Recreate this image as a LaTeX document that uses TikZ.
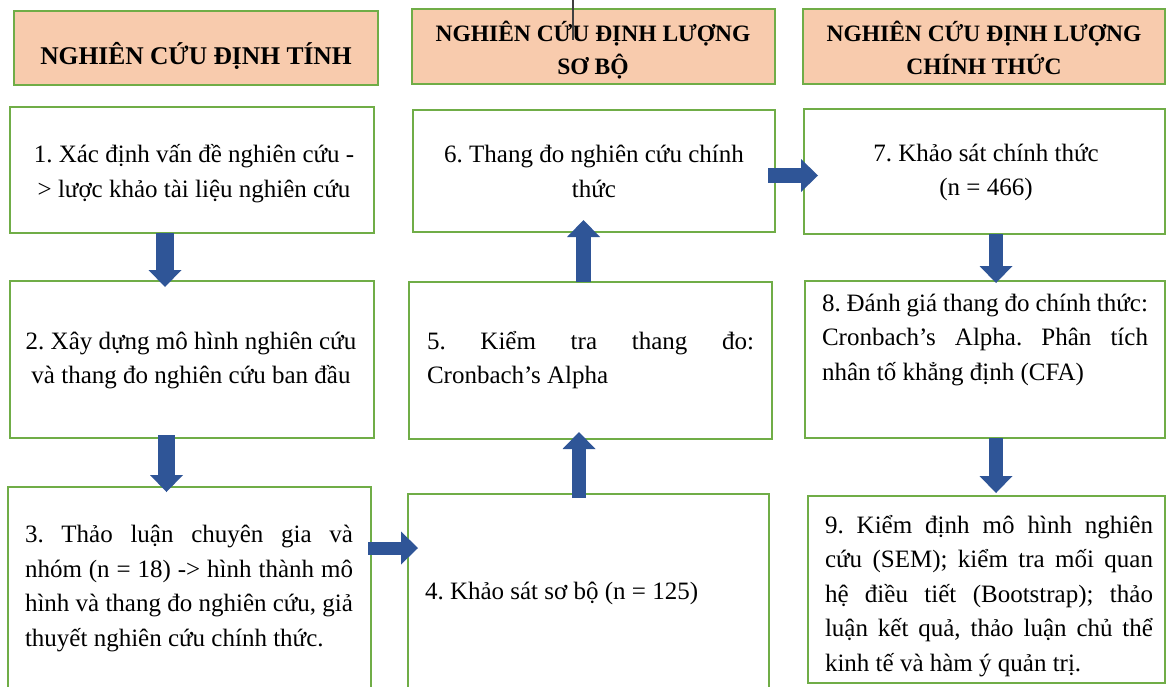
\documentclass[tikz,border=0pt]{standalone}
\usepackage{fontspec}
\setmainfont{Liberation Serif}
\usetikzlibrary{arrows.meta,calc}
\definecolor{boxgreen}{HTML}{70AD47}
\definecolor{hdrfill}{HTML}{F8CBAD}
\definecolor{arrowblue}{HTML}{2F5597}
\definecolor{straygray}{HTML}{404040}
\newcommand{\jline}[2]{\makebox[#1][s]{#2}}
\frenchspacing
\begin{document}
\begin{tikzpicture}[x=1pt,y=-1pt,
  box/.style={draw=boxgreen,line width=2.5pt,outer sep=0pt,inner sep=0pt,rectangle},
  hdr/.style={box,fill=hdrfill},
  txt/.style={inner sep=0pt,outer sep=0pt,font=\fontsize{25}{34.5}\selectfont\frenchspacing},
  htxt/.style={inner sep=0pt,outer sep=0pt,anchor=base,font=\fontsize{23.5}{32}\selectfont\bfseries},
  barrow/.style={arrowblue,line width=#1,-{Triangle[width=33pt,length=17pt,line width=0pt]}}]
\useasboundingbox (0,0) rectangle (1166,686);
% headers
\node[hdr,minimum width=364pt,minimum height=74pt] (h1) at (196,48) {};
\node[hdr,minimum width=363pt,minimum height=75pt] (h2) at (593.5,46.5) {};
\node[hdr,minimum width=362pt,minimum height=75pt] (h3) at (984,46.5) {};
\node[htxt,font=\fontsize{25.5}{32}\selectfont\bfseries] (h1t) at (196,64) {NGHIÊN CỨU ĐỊNH TÍNH};
\node[htxt] (h2a) at (593,41.5) {NGHIÊN CỨU ĐỊNH LƯỢNG};
\node[htxt] (h2b) at (593,74) {SƠ BỘ};
\node[htxt] (h3a) at (984,41.5) {NGHIÊN CỨU ĐỊNH LƯỢNG};
\node[htxt] (h3b) at (984,74) {CHÍNH THỨC};
% boxes
\node[box,minimum width=364pt,minimum height=126pt] (b1) at (192,170) {};
\node[box,minimum width=364pt,minimum height=157pt] (b2) at (192,359.5) {};
\node[box,minimum width=363pt,minimum height=213pt] (b3) at (189.5,593.5) {};
\node[box,minimum width=361pt,minimum height=206pt] (b4) at (588.5,597) {};
\node[box,minimum width=363pt,minimum height=157pt] (b5) at (590.5,360.5) {};
\node[box,minimum width=362pt,minimum height=122pt] (b6) at (594,171) {};
\node[box,minimum width=361pt,minimum height=125pt] (b7) at (984.5,171.5) {};
\node[box,minimum width=360pt,minimum height=157pt] (b8) at (985,359.5) {};
\node[box,minimum width=357pt,minimum height=187pt] (b9) at (986.5,589.5) {};
% texts
\node[txt,align=center] (t1) at (194,173.5) {1. Xác định vấn đề nghiên cứu -\\> lược khảo tài liệu nghiên cứu};
\node[txt,align=center] (t2) at (191,360.5) {2. Xây dựng mô hình nghiên cứu\\và thang đo nghiên cứu ban đầu};
\node[txt,align=left,anchor=west] (t3) at (25,588.5) {\jline{328pt}{3. Thảo luận chuyên gia và}\\\jline{328pt}{nhóm (n = 18) -> hình thành mô}\\\jline{328pt}{hình và thang đo nghiên cứu, giả}\\thuyết nghiên cứu chính thức.};
\node[txt,anchor=base west] (t4) at (425,599) {4. Khảo sát sơ bộ (n = 125)};
\node[txt,align=left,anchor=west] (t5) at (427,360) {\jline{327pt}{5. Kiểm tra thang đo:}\\Cronbach’s Alpha};
\node[txt,align=center] (t6) at (594,171.5) {6. Thang đo nghiên cứu chính\\thức};
\node[txt,align=center] (t7) at (986,172.5) {7. Khảo sát chính thức\\(n = 466)};
\node[txt,align=left,anchor=west] (t8) at (822,339.5) {\jline{326pt}{8. Đánh giá thang đo chính thức:}\\\jline{326pt}{Cronbach’s Alpha. Phân tích}\\nhân tố khẳng định (CFA)};
\node[txt,align=left,anchor=west] (t9) at (825,596) {\jline{328pt}{9. Kiểm định mô hình nghiên}\\\jline{328pt}{cứu (SEM); kiểm tra mối quan}\\\jline{328pt}{hệ điều tiết (Bootstrap); thảo}\\\jline{328pt}{luận kết quả, thảo luận chủ thể}\\kinh tế và hàm ý quản trị.};
% arrows
\draw[barrow=18pt] ($(b1.south)+(-27,0)$) -- ($(b2.north)+(-27,6)$);
\draw[barrow=17pt] ($(b2.south)+(-25.5,-3)$) -- ($(b3.north)+(-23,5)$);
\draw[barrow=13pt] ($(b3.east)+(-3,-45.5)$) -- ($(b4.west)+(10,-49)$);
\draw[barrow=14pt] ($(b4.north)+(-9.5,4)$) -- ($(b5.south)+(-11.5,-7)$);
\draw[barrow=15pt] ($(b5.north)+(-7,0)$) -- ($(b6.south)+(-10.5,-12)$);
\draw[barrow=15pt] ($(b6.east)+(-7,4.5)$) -- ($(b7.west)+(14,4)$);
\draw[barrow=14pt] ($(b7.south)+(11.5,0)$) -- ($(b8.north)+(11,2)$);
\draw[barrow=14pt] ($(b8.south)+(11,0)$) -- ($(b9.north)+(9.5,-3)$);
% stray line at top
\coordinate (s1) at (573,0);
\coordinate (s2) at (573,40);
\draw[straygray,line width=1.2pt] (s1) -- (s2);
\end{tikzpicture}
\end{document}
